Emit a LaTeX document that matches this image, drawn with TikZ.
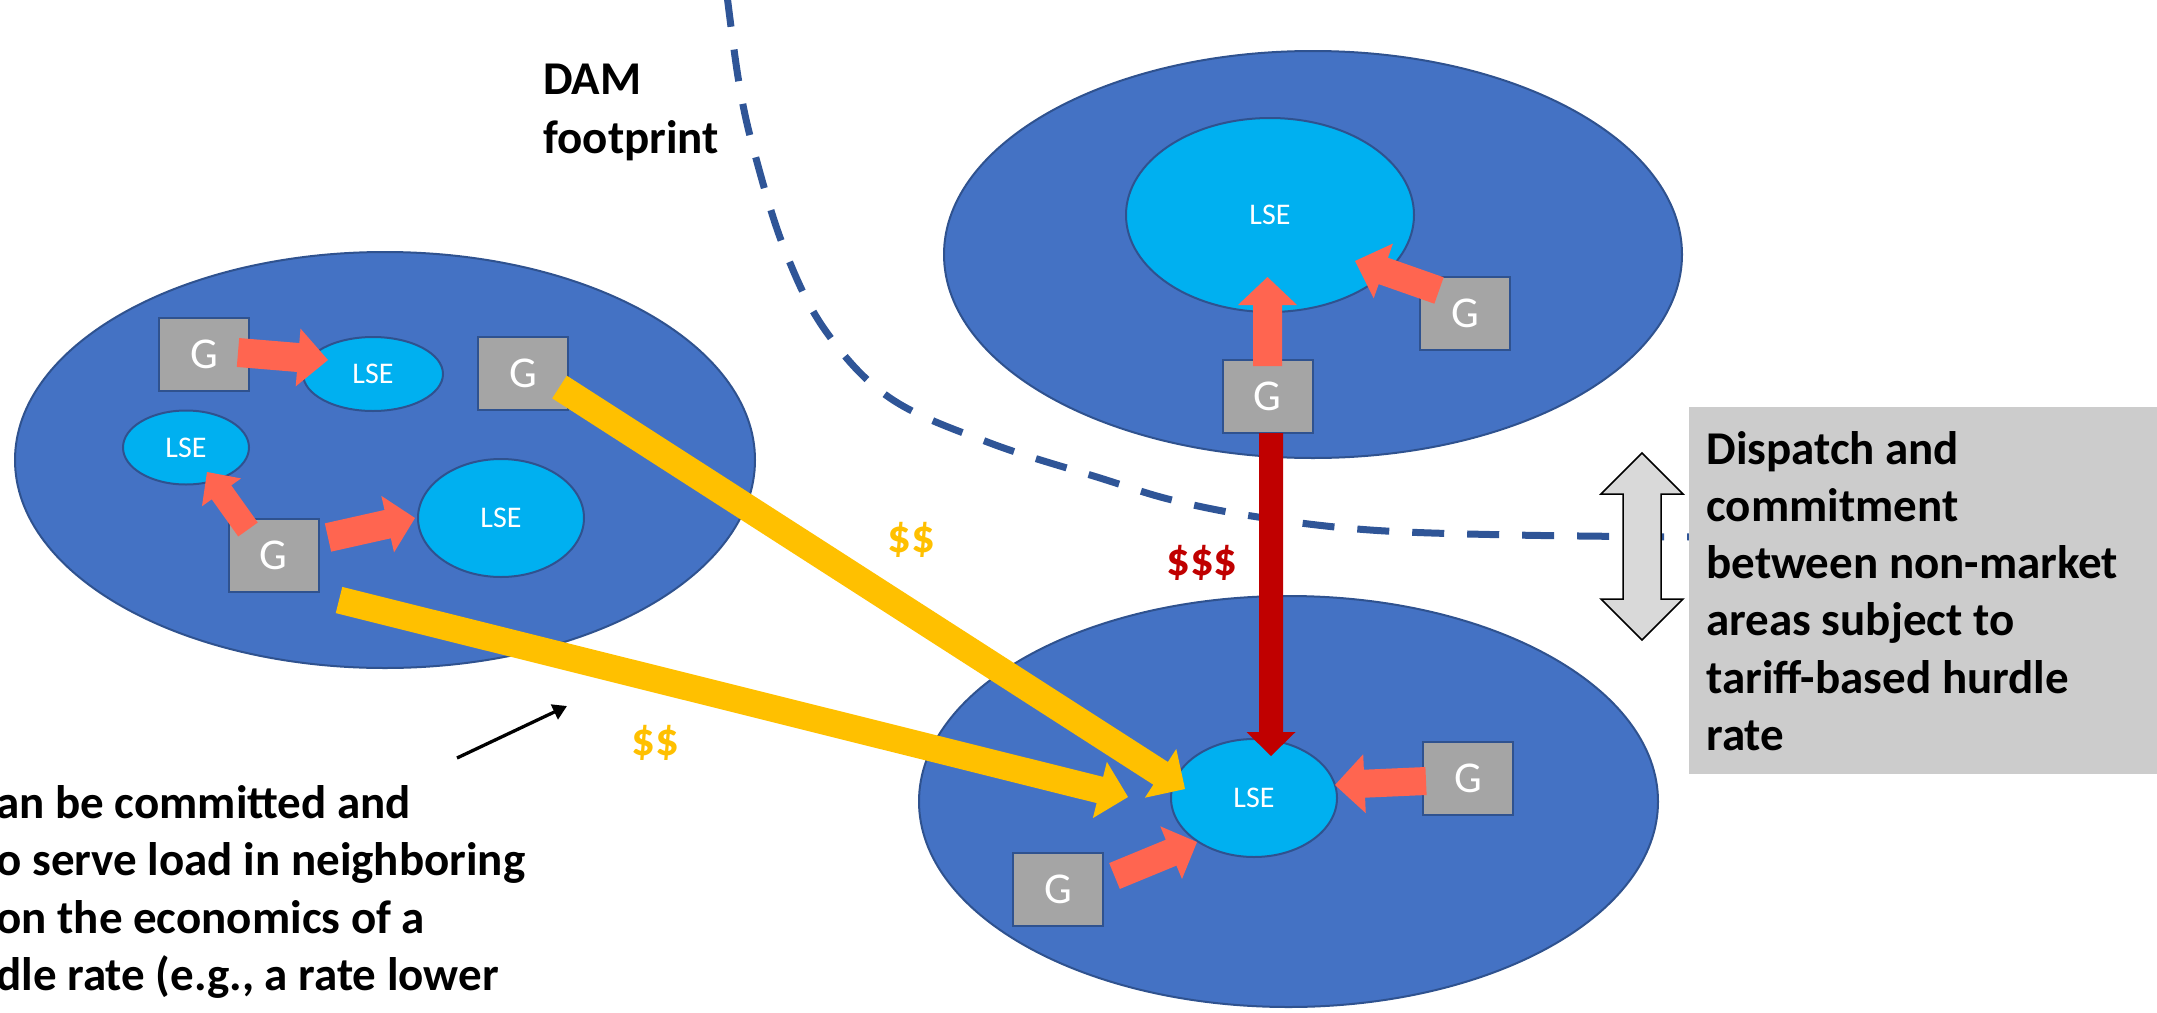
\documentclass[tikz,border=0pt]{standalone}
\usepackage{fontspec}
\setmainfont{Carlito}
\usetikzlibrary{shapes.geometric,calc,arrows.meta}
\definecolor{areaF}{HTML}{4472C4}
\definecolor{edgeB}{HTML}{2F528F}
\definecolor{lseF}{HTML}{00B0F0}
\definecolor{genF}{HTML}{A5A5A5}
\definecolor{salmon}{RGB}{255,101,80}
\definecolor{gold}{HTML}{FFC000}
\definecolor{darkred}{HTML}{C00000}
\definecolor{dashB}{HTML}{2F5597}
\definecolor{boxG}{HTML}{CCCCCC}
\definecolor{dblG}{HTML}{D9D9D9}
% block arrow: #1 colour, #2 start, #3 tip, #4 shaft half width, #5 head half width, #6 head length
\newcommand{\blockarr}[6]{%
  \coordinate (ba-b) at ($(#3)!#6!(#2)$);
  \fill[#1] ($(#2)!#4!90:(#3)$) -- ($(ba-b)!#4!90:(#3)$) -- ($(ba-b)!#5!90:(#3)$) -- (#3)
    -- ($(ba-b)!#5!-90:(#3)$) -- ($(ba-b)!#4!-90:(#3)$) -- ($(#2)!#4!-90:(#3)$) -- cycle;
}
\tikzset{
  area/.style={ellipse, draw=edgeB, fill=areaF, line width=1pt, inner sep=0pt},
  lse/.style={ellipse, draw=edgeB, fill=lseF, line width=1pt, inner sep=0pt, text=white,
    font=\fontsize{15}{18}\selectfont},
  gen/.style={rectangle, draw=edgeB, fill=genF, line width=1pt, minimum width=45pt,
    minimum height=36.5pt, inner sep=0pt, text=white, font=\fontsize{22}{26}\selectfont},
  lbl/.style={font=\bfseries\fontsize{23.5}{28.6}\selectfont},
}
\begin{document}
\begin{tikzpicture}[x=0.5pt,y=-0.5pt]
\useasboundingbox (0,0) rectangle (2157,1012);
\clip (0,0) rectangle (2157,1012);
% areas
\node[area, minimum width=370pt, minimum height=208pt] (areaL) at (385,460) {};
\node[area, minimum width=369pt, minimum height=203.5pt] (areaT) at (1313,254.5) {};
\node[area, minimum width=369.5pt, minimum height=205.5pt] (areaB) at (1288.5,801.5) {};
% DAM footprint boundary
\draw[dashB, line width=3.5pt, dash pattern=on 16pt off 11.5pt]
  plot[smooth, tension=0.6] coordinates {(727,-5) (739,83) (754,151) (784,248) (825,330) (890,398) (990,443) (1100,478) (1172,500) (1258,517) (1370,530) (1513,535) (1690,537)};
% load serving entities
\node[lse, minimum width=70pt, minimum height=37pt] (lseA) at (373,374) {LSE};
\node[lse, minimum width=63pt, minimum height=37pt] (lseB) at (186,447.5) {LSE};
\node[lse, minimum width=83pt, minimum height=59pt] (lseC) at (501,518) {LSE};
\node[lse, minimum width=144pt, minimum height=97pt] (lseT) at (1270,215) {LSE};
\node[lse, minimum width=83pt, minimum height=59pt] (lseM) at (1254,798) {LSE};
% generators
\node[gen] (g1) at (204,354.5) {G};
\node[gen] (g2) at (523,373.5) {G};
\node[gen] (g3) at (273.5,555) {G};
\node[gen] (g4) at (1465,313) {G};
\node[gen] (g5) at (1267.5,396.5) {G};
\node[gen] (g6) at (1468,778.5) {G};
\node[gen] (g7) at (1058,889.5) {G};
% arrow end points
\coordinate (a1s) at (238,352.5); \coordinate (a1e) at (328,360);
\coordinate (a2s) at (248,529.5); \coordinate (a2e) at (207,472);
\coordinate (a3s) at (328,537.5); \coordinate (a3e) at (415,518);
\coordinate (a4s) at (1267.5,366); \coordinate (a4e) at (1267.5,277);
\coordinate (a5s) at (1439,290.5); \coordinate (a5e) at (1355,261);
\coordinate (a6s) at (1426,781); \coordinate (a6e) at (1335,785);
\coordinate (a7s) at (1114.5,876); \coordinate (a7e) at (1197,842);
\coordinate (y1s) at (559.5,387); \coordinate (y1e) at (1185,789);
\coordinate (y2s) at (339,600); \coordinate (y2e) at (1128,797);
\coordinate (r1s) at (1271,433); \coordinate (r1e) at (1271,756);
\coordinate (bk1) at (457,758); \coordinate (bk2) at (567,706);
% local flows
\blockarr{salmon}{a1s}{a1e}{7.25pt}{14.5pt}{15pt}
\blockarr{salmon}{a2s}{a2e}{6pt}{12pt}{12.5pt}
\blockarr{salmon}{a3s}{a3e}{7.25pt}{14.5pt}{14pt}
\blockarr{salmon}{a4s}{a4e}{7.25pt}{14.75pt}{14pt}
\blockarr{salmon}{a5s}{a5e}{7pt}{14.5pt}{15pt}
\blockarr{salmon}{a6s}{a6e}{7pt}{14.75pt}{14.75pt}
\blockarr{salmon}{a7s}{a7e}{7pt}{14.25pt}{14pt}
% inter-area flows
\blockarr{gold}{y1s}{y1e}{6.75pt}{14.5pt}{14.5pt}
\blockarr{gold}{y2s}{y2e}{6.75pt}{14.5pt}{14.5pt}
\blockarr{darkred}{r1s}{r1e}{6pt}{12.25pt}{12pt}
% labels
\node[lbl, text=gold] (p1) at (911,540) {\$\$};
\node[lbl, text=gold] (p2) at (655,743) {\$\$};
\node[lbl, text=darkred] (p3) at (1202,563) {\$\$\$};
\node[lbl, anchor=base west, inner sep=0pt] (dam1) at (543,94) {DAM};
\node[lbl, anchor=base west, inner sep=0pt] (dam2) at (543,153) {footprint};
% note box
\node[lbl, fill=boxG, anchor=north west, minimum height=183.5pt, text width=220pt,
  inner xsep=8.5pt, inner ysep=0pt, align=flush left] (note) at (1689,407)
  {Dispatch and\\ commitment\\ between non-market\\ areas subject to\\ tariff-based hurdle\\ rate};
\draw[line width=0.75pt, fill=dblG] (1642,453) -- (1683,494) -- (1661,494) -- (1661,599)
  -- (1683,599) -- (1642,640) -- (1601,599) -- (1623,599) -- (1623,494) -- (1601,494) -- cycle;
% bottom-left note
\node[lbl, anchor=base west, inner sep=0pt] (t1) at (-4,818) {an be committed and};
\node[lbl, anchor=base west, inner sep=0pt] (t2) at (-4,875) {o serve load in neighboring};
\node[lbl, anchor=base west, inner sep=0pt] (t3) at (-4,933) {on the economics of a};
\node[lbl, anchor=base west, inner sep=0pt] (t4) at (-4,990) {dle rate (e.g., a rate lower};
\draw[line width=1.65pt, -{Triangle[length=7pt,width=8pt]}] (bk1) -- (bk2);
\end{tikzpicture}
\end{document}
